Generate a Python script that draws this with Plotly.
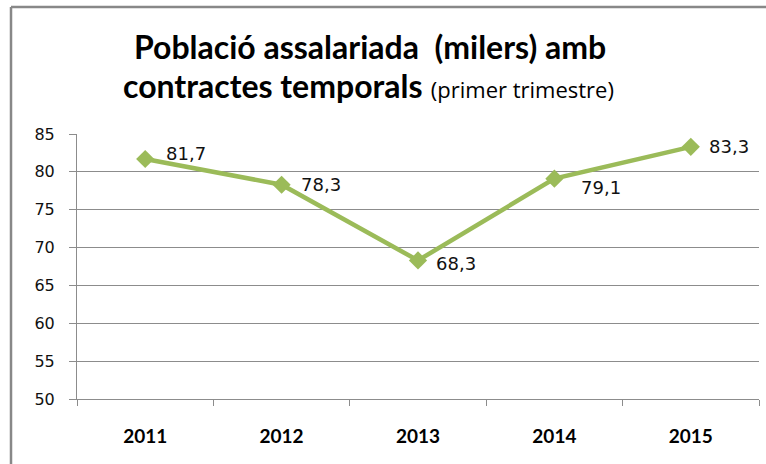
import plotly.graph_objects as go

years = ["2011", "2012", "2013", "2014", "2015"]
values = [81.7, 78.3, 68.3, 79.1, 83.3]
labels = ["81,7", "78,3", "68,3", "79,1", "83,3"]
y_ticks = [50, 55, 60, 65, 70, 75, 80, 85]

# label nudges (pixels) relative to each point, like the hand-placed Excel labels
label_dx = [19, 17, 16, 25, 16]
label_dy = [5, 0, -3, -9, 0]

green = "#9BBB59"
grid = "#8C8C8C"

fig = go.Figure()
fig.add_trace(go.Scatter(
    x=years, y=values,
    mode="lines+markers",
    line=dict(color=green, width=4.5),
    marker=dict(symbol="diamond", size=14, color=green),
    cliponaxis=False,
    showlegend=False,
))

# data labels (category axis: position by index)
for i, (v, lab) in enumerate(zip(values, labels)):
    fig.add_annotation(
        x=i, y=v, xref="x", yref="y", text=lab, showarrow=False,
        xanchor="left", yanchor="middle", xshift=label_dx[i], yshift=label_dy[i],
        font=dict(family="DejaVu Sans", size=18, color="#111"),
    )

fig.update_layout(
    width=766, height=464,
    margin=dict(l=77, r=7, t=134, b=65),
    paper_bgcolor="white", plot_bgcolor="white",
    xaxis=dict(
        type="category", range=[-0.5, 4.5],
        showgrid=False, showline=True, linecolor=grid, linewidth=1,
        ticks="outside", tickson="boundaries", ticklen=6, tickcolor=grid,
        tickfont=dict(family="Lato", size=19, color="#000", weight="bold"),
        ticklabelstandoff=20,
    ),
    yaxis=dict(
        range=[50, 85], tickvals=y_ticks,
        showgrid=True, gridcolor=grid, gridwidth=1.3,
        showline=True, linecolor=grid, linewidth=1,
        ticks="outside", ticklen=7, tickcolor=grid,
        tickfont=dict(family="DejaVu Sans", size=16, color="#111"),
        ticklabelstandoff=11,
        zeroline=False,
    ),
    font=dict(family="Lato"),
)

# chart title, two lines
fig.add_annotation(
    text="<b>Població assalariada  (milers) amb</b>",
    xref="paper", yref="paper", x=(370 - 77) / 682, y=1.0 + (134 - 46.5) / 265,
    showarrow=False, xanchor="center", yanchor="middle",
    font=dict(family="Lato", size=32, color="#000"),
)
fig.add_annotation(
    text="<b>contractes temporals</b> <span style='font-family:Open Sans;font-size:22px'>(primer trimestre)</span>",
    xref="paper", yref="paper", x=(368.5 - 77) / 682, y=1.0 + (134 - 85) / 265,
    showarrow=False, xanchor="center", yanchor="middle",
    font=dict(family="Lato", size=32, color="#000"),
)

# outer frame (top and left edges visible)
frame_top = 1 + (134 - 7) / 265
frame_left = (11 - 77) / 682
fig.add_shape(type="line", xref="paper", yref="paper",
              x0=frame_left, x1=(770 - 77) / 682, y0=frame_top, y1=frame_top,
              line=dict(color="#888888", width=2.5))
fig.add_shape(type="line", xref="paper", yref="paper",
              x0=frame_left, x1=frame_left, y0=frame_top, y1=-(470 - 399) / 265,
              line=dict(color="#888888", width=2.5))

# page has no body margin so the figure sits at the window's corner
fig.write_html("out.html", config={"displayModeBar": False},
               post_script="document.body.style.margin='0';")
